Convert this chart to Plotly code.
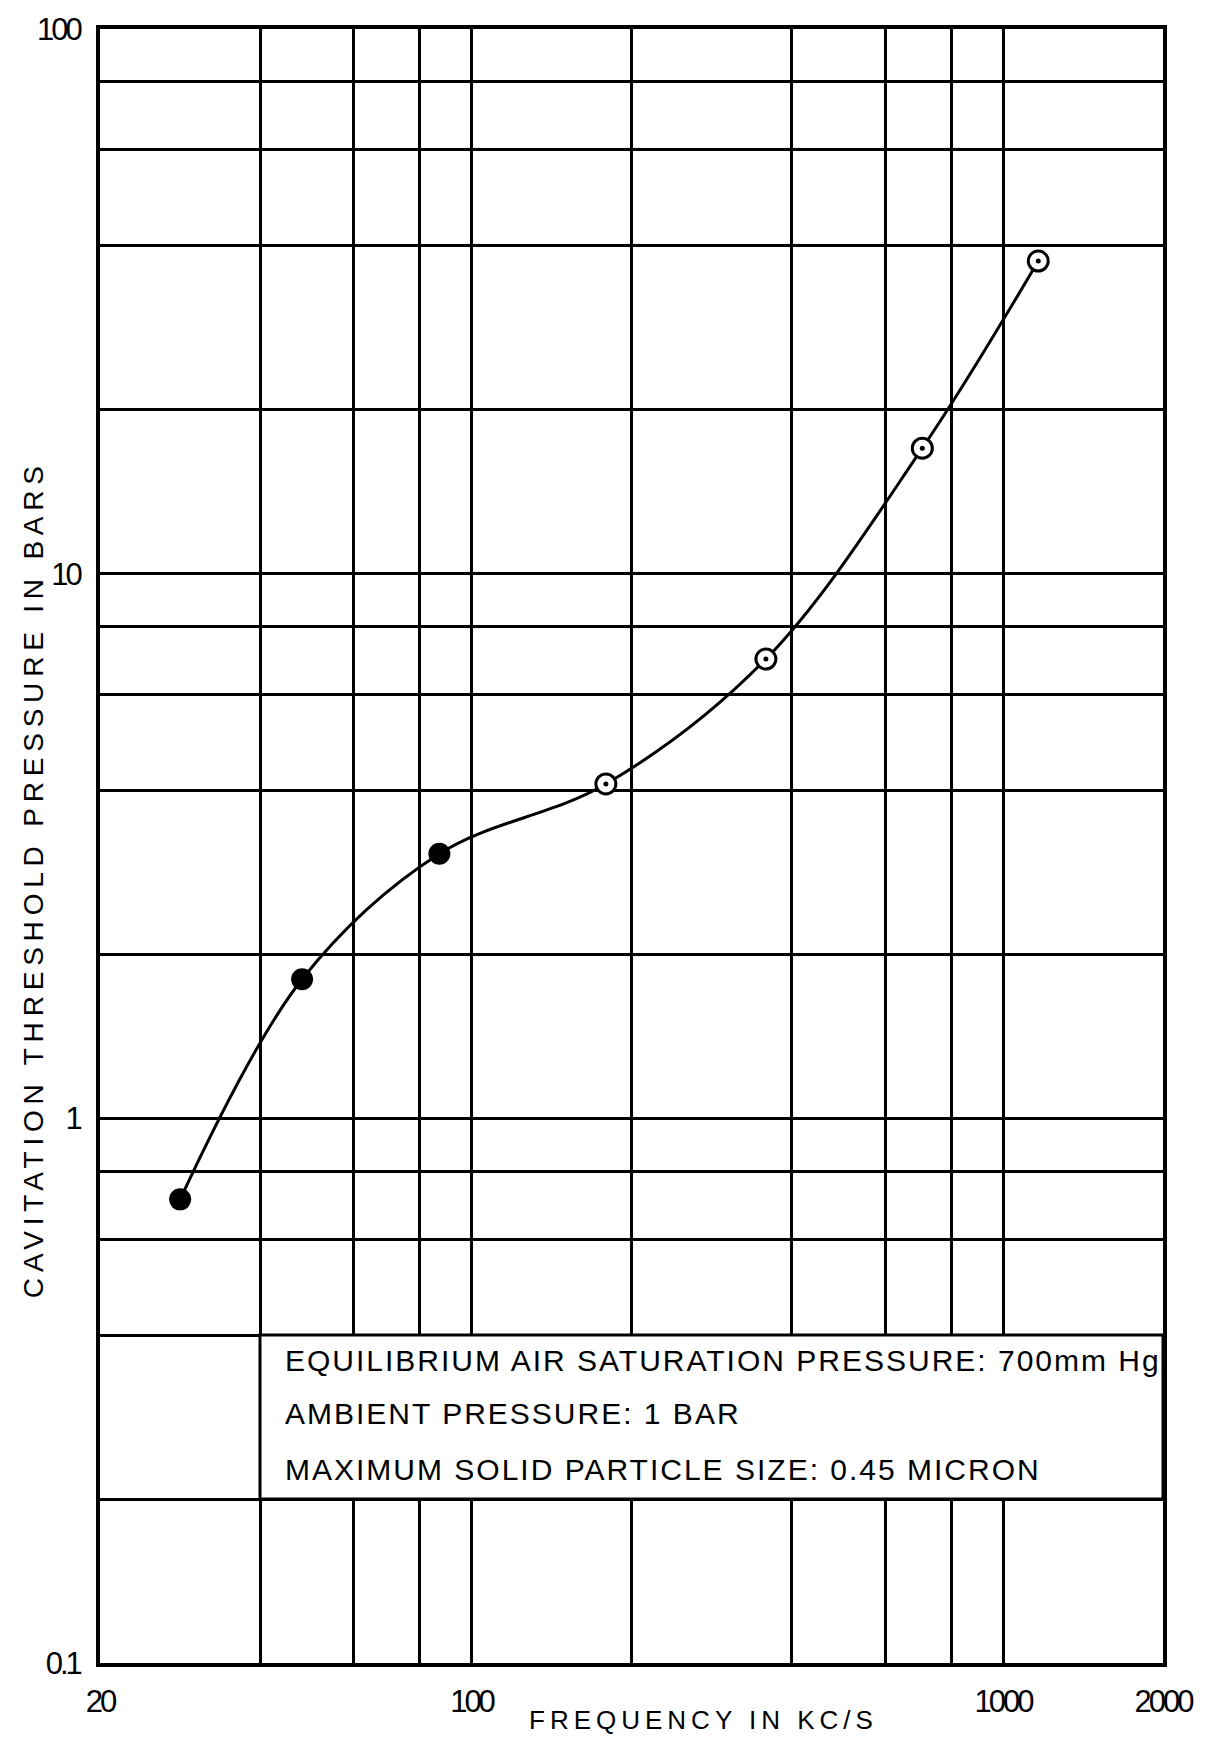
import plotly.graph_objects as go

# Data
freq_filled = [28.3, 48.0, 87.0]
pres_filled = [0.71, 1.80, 3.06]
freq_open = [179, 358, 705, 1165]
pres_open = [4.11, 6.97, 17.0, 37.5]

curve_freq = freq_filled + freq_open
curve_pres = pres_filled + pres_open

x_tickvals = [20, 40, 60, 80, 100, 200, 400, 600, 800, 1000, 2000]
x_ticktext = ["20", "", "", "", "100", "", "", "", "", "1000", "2000"]
y_tickvals = [0.1, 0.2, 0.4, 0.6, 0.8, 1, 2, 4, 6, 8, 10, 20, 40, 60, 80, 100]
y_ticktext = ["0.1", "", "", "", "", "1", "", "", "", "", "10", "", "", "", "", "100"]

notes = [
    "EQUILIBRIUM AIR SATURATION PRESSURE: 700mm Hg",
    "AMBIENT PRESSURE: 1 BAR",
    "MAXIMUM SOLID PARTICLE SIZE: 0.45 MICRON",
]

FONT = "Liberation Sans, Arial, sans-serif"


def narrow(labels):
    return ['<span style="letter-spacing:-3px">' + s + '</span>' if s else "" for s in labels]


fig = go.Figure()

fig.add_trace(go.Scatter(
    x=curve_freq, y=curve_pres, mode="lines",
    line=dict(color="black", width=3, shape="spline", smoothing=1.0),
    hoverinfo="skip", showlegend=False))

fig.add_trace(go.Scatter(
    x=freq_filled, y=pres_filled, mode="markers",
    marker=dict(symbol="circle", size=22, color="black", line=dict(width=0)),
    showlegend=False))

fig.add_trace(go.Scatter(
    x=freq_open, y=pres_open, mode="markers",
    marker=dict(symbol="circle", size=20, color="white", line=dict(width=3, color="black")),
    showlegend=False))

fig.add_trace(go.Scatter(
    x=freq_open, y=pres_open, mode="markers",
    marker=dict(symbol="circle", size=5, color="black", line=dict(width=0)),
    showlegend=False))

# white notes box between the 0.2 and 0.4 gridlines
fig.add_shape(type="rect", xref="x", yref="y", x0=40, x1=2000, y0=0.2, y1=0.4,
              fillcolor="white", line=dict(color="black", width=3), layer="above")

note_y = [0.1854, 0.1524, 0.1183]
for t, yy in zip(notes, note_y):
    fig.add_annotation(xref="paper", yref="paper", x=0.172, y=yy,
                       text='<span style="letter-spacing:2px">' + t + '</span>',
                       showarrow=False, xanchor="left", yanchor="middle",
                       font=dict(family=FONT, size=30, color="black"))

fig.add_annotation(xref="paper", yref="paper", x=0.568, y=-0.035,
                   text='<span style="letter-spacing:5px">FREQUENCY IN KC/S</span>',
                   showarrow=False, xanchor="center", yanchor="middle",
                   font=dict(family=FONT, size=26, color="black"))

fig.add_annotation(xref="paper", yref="paper", x=-0.0626, y=0.48,
                   text='<span style="letter-spacing:5.8px">CAVITATION THRESHOLD PRESSURE IN BARS</span>',
                   showarrow=False, xanchor="center", yanchor="middle", textangle=-90,
                   font=dict(family=FONT, size=28, color="black"))

fig.update_xaxes(type="log", range=[1.30103, 3.30103],
                 tickvals=x_tickvals, ticktext=narrow(x_ticktext),
                 showgrid=True, gridcolor="black", gridwidth=3,
                 showline=True, linecolor="black", linewidth=4, mirror=True,
                 ticks="", ticklabelstandoff=8, zeroline=False,
                 tickfont=dict(family=FONT, size=31, color="black"))
fig.update_yaxes(type="log", range=[-1, 2],
                 tickvals=y_tickvals, ticktext=narrow(y_ticktext),
                 showgrid=True, gridcolor="black", gridwidth=3,
                 showline=True, linecolor="black", linewidth=4, mirror=True,
                 ticks="", ticklabelstandoff=10, zeroline=False,
                 tickfont=dict(family=FONT, size=31, color="black"))

fig.update_layout(width=1206, height=1745,
                  margin=dict(l=100, r=35, t=23, b=82),
                  paper_bgcolor="white", plot_bgcolor="white",
                  showlegend=False)

fig.write_html("out.html")
